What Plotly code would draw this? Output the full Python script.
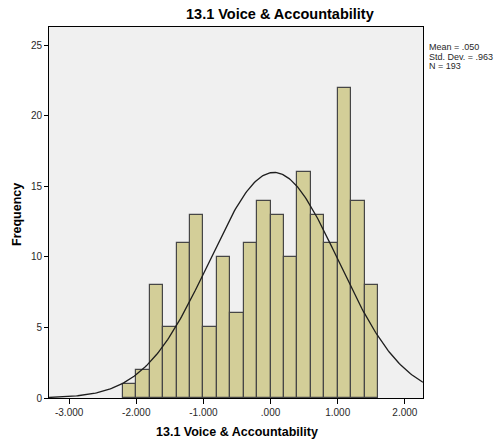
import numpy as np
import plotly.graph_objects as go

bin_starts = [-2.2, -2.0, -1.8, -1.6, -1.4, -1.2, -1.0, -0.8, -0.6, -0.4,
              -0.2, 0.0, 0.2, 0.4, 0.6, 0.8, 1.0, 1.2, 1.4]
counts = [1, 2, 8, 5, 11, 13, 5, 10, 6, 11, 14, 13, 10, 16, 13, 11, 22, 14, 8]
bin_width = 0.2
mean = 0.050
sd = 0.963
n = 193
x_ticks = [-3, -2, -1, 0, 1, 2]
x_tick_labels = ["-3.000", "-2.000", "-1.000", ".000", "1.000", "2.000"]
y_ticks = [0, 5, 10, 15, 20, 25]
stats_lines = ["Mean = .050", "Std. Dev. = .963", "N = 193"]

centers = [b + bin_width / 2 for b in bin_starts]

xs = np.linspace(-3.3, 2.27, 300)
ys = n * bin_width / (sd * np.sqrt(2 * np.pi)) * np.exp(-0.5 * ((xs - mean) / sd) ** 2)

fig = go.Figure()
fig.add_trace(go.Bar(
    x=centers, y=counts, width=bin_width,
    marker=dict(color="rgb(211,206,152)", line=dict(color="rgb(70,70,70)", width=1.2)),
    showlegend=False, hoverinfo="skip"))
fig.add_trace(go.Scatter(
    x=xs, y=ys, mode="lines", line=dict(color="rgb(30,30,30)", width=1.3),
    showlegend=False, hoverinfo="skip"))

L, R, T, B = 49, 80, 27, 46
PW, PH = 503 - L - R, 444 - T - B
BOTTOM = 444 - B

font_family = "Liberation Sans, Arial, sans-serif"
annotations = [
    dict(text="<b>13.1 Voice & Accountability</b>", xref="paper", yref="paper",
         x=(280 - L) / PW, y=1, yshift=3, xanchor="center", yanchor="bottom",
         showarrow=False, font=dict(size=14.5)),
    dict(text="<b>13.1 Voice & Accountability</b>", xref="paper", yref="paper",
         x=(237 - L) / PW, y=-(432 - BOTTOM) / PH, xanchor="center", yanchor="middle",
         showarrow=False, font=dict(size=12.5)),
    dict(text="<b>Frequency</b>", xref="paper", yref="paper", textangle=-90,
         x=(17 - L) / PW, y=(BOTTOM - 215) / PH, xanchor="center", yanchor="middle",
         showarrow=False, font=dict(size=12.5)),
]
for i, line in enumerate(stats_lines):
    annotations.append(dict(
        text=line, xref="paper", yref="paper",
        x=1, xshift=4, y=(BOTTOM - (47 + 9.5 * i)) / PH, xanchor="left", yanchor="middle",
        showarrow=False, font=dict(size=9, color="rgb(40,40,40)")))

fig.update_layout(
    width=503, height=444,
    margin=dict(l=L, r=R, t=T, b=B, autoexpand=False),
    paper_bgcolor="white", plot_bgcolor="rgb(240,240,240)",
    bargap=0,
    font=dict(family=font_family, color="black"),
    xaxis=dict(range=[-3.3, 2.27], tickvals=x_ticks, ticktext=x_tick_labels,
               ticks="outside", ticklen=5, tickcolor="black",
               tickfont=dict(size=10, color="rgb(40,40,40)"),
               showline=True, linecolor="black", linewidth=1, mirror=True,
               showgrid=False, zeroline=False, automargin=False),
    yaxis=dict(range=[0, 26.3], tickvals=y_ticks,
               ticks="outside", ticklen=4, tickcolor="black",
               tickfont=dict(size=10, color="rgb(40,40,40)"),
               showline=True, linecolor="black", linewidth=1, mirror=True,
               showgrid=False, zeroline=False, automargin=False),
    annotations=annotations,
)

fig.write_html("out.html")
